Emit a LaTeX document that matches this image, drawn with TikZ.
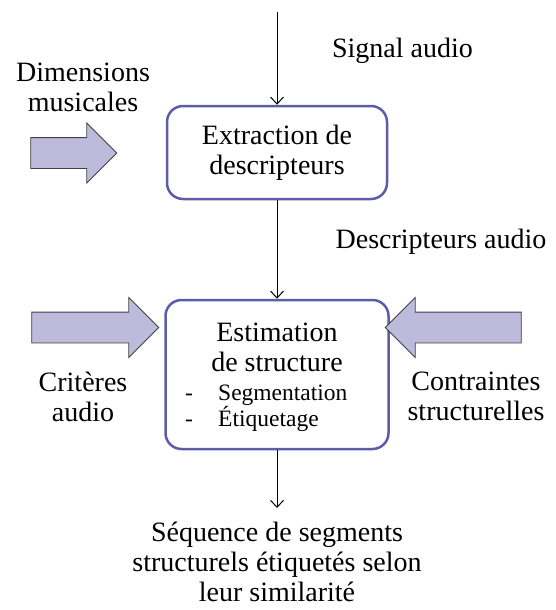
\documentclass[tikz,border=0pt]{standalone}
\usepackage{fontspec}
\setmainfont{Liberation Serif}
\usepackage{tikz}
\usetikzlibrary{shapes.arrows, arrows.meta}
\definecolor{boxblue}{RGB}{92,92,168}
\definecolor{arrowfill}{RGB}{190,186,220}
\tikzstyle{block} = [rectangle, draw=boxblue, line width=2.5pt,
    align=center, rounded corners=16pt, minimum width=220pt]
\tikzstyle{fat} = [single arrow, draw=black!75, fill=arrowfill, line width=0.8pt,
    inner xsep=0pt, inner ysep=15pt, minimum width=59pt, single arrow head extend=14.5pt]
\tikzstyle{label} = [align=center, inner sep=0pt]
\tikzstyle{line} = [draw, line width=1pt, -{Straight Barb[length=7pt,width=13pt]}]

\begin{document}
\begin{tikzpicture}[x=1pt, y=-1pt, font=\fontsize{28}{30}\selectfont]
                \useasboundingbox (0,0) rectangle (555,610);
                \node [block, minimum height=93pt] at (277,152.5) (extract) {Extraction de\\descripteurs};
                \node [block, minimum width=223pt, minimum height=149pt] at (277,374.5) (estim) {};
                \node [label] at (277,347) (estimtitle) {Estimation\\de structure};
                \node [label, align=left, anchor=west, font=\fontsize{23.5}{26.5}\selectfont] at (185,408.5) (estimlist)
                    {\makebox[33pt][l]{-}Segmentation\\\makebox[33pt][l]{-}Étiquetage};
                \node [fat, minimum height=86pt] at (66,153) (dimarrow) {};
                \node [fat, minimum height=127pt] at (87.5,327.5) (critarrow) {};
                \node [fat, minimum height=136pt, shape border rotate=180] at (461,327.5) (contarrow) {};
                \node [label, anchor=base] at (402.5,58) (signal) {Signal audio};
                \node [label, anchor=base] at (441,248) (desc) {Descripteurs audio};
                \node [label] at (83,87.5) (dim) {Dimensions\\musicales};
                \node [label] at (83,397) (crit) {Critères\\audio};
                \node [label] at (476,396.5) (cont) {Contraintes\\structurelles};
                \node [label] at (277,562) (result) {Séquence de segments\\structurels étiquetés selon\\leur similarité};
                \coordinate (in) at (277,12);
                \coordinate (out) at (277,508);
                \path [line] (in) -- (extract);
                \path [line] (extract) -- (estim);
                \path [line] (estim) -- (out);
            \end{tikzpicture}
\end{document}
